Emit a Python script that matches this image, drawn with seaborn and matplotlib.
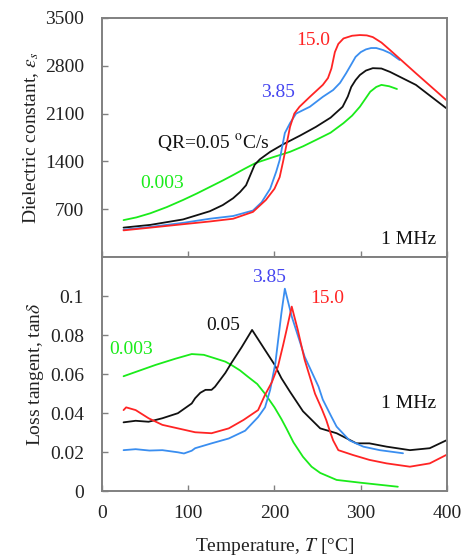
import numpy as np
import pandas as pd
import matplotlib
matplotlib.use("Agg")
import matplotlib.pyplot as plt
import seaborn as sns

# ---------------- data ----------------
# Top panel: dielectric constant vs temperature
T_eps_green = [25, 40, 56, 75, 94, 110, 125, 140, 152, 165, 178, 198, 218, 233, 248, 265, 280, 290, 299, 305, 311, 318, 324, 333, 342]
eps_green = [540, 580, 640, 730, 835, 930, 1025, 1120, 1200, 1290, 1376, 1460, 1540, 1620, 1713, 1820, 1960, 2070, 2200, 2310, 2420, 2490, 2520, 2500, 2460]

T_eps_black = [25, 56, 94, 125, 140, 152, 160, 167, 172, 177, 183, 195, 210, 230, 248, 265, 279, 285, 289, 294, 299, 306, 314, 324, 334, 364, 399]
eps_black = [430, 470, 550, 670, 760, 860, 950, 1050, 1200, 1350, 1430, 1540, 1650, 1780, 1905, 2040, 2200, 2350, 2490, 2590, 2665, 2730, 2765, 2760, 2710, 2520, 2180]

T_eps_blue = [25, 56, 94, 125, 152, 175, 185, 195, 202, 206, 209, 212, 218, 225, 241, 256, 268, 276, 283, 289, 294, 300, 306, 312, 318, 326, 334, 345]
eps_blue = [400, 440, 500, 560, 600, 680, 800, 1000, 1250, 1420, 1620, 1815, 1960, 2100, 2200, 2345, 2445, 2550, 2690, 2820, 2930, 3000, 3040, 3060, 3060, 3030, 2985, 2885]

T_eps_red = [25, 56, 94, 125, 152, 175, 190, 200, 206, 210, 214, 218, 223, 229, 241, 256, 262, 266, 270, 274, 280, 290, 299, 307, 314, 324, 334, 364, 399]
eps_red = [390, 430, 480, 520, 560, 660, 835, 1000, 1170, 1400, 1650, 1905, 2100, 2200, 2345, 2520, 2620, 2760, 3000, 3120, 3200, 3240, 3250, 3245, 3220, 3140, 3030, 2690, 2300]

# Bottom panel: loss tangent vs temperature
T_tan_green = [25, 62, 85, 104, 118, 131, 143, 150, 160, 169, 180, 189, 200, 208, 214, 222, 233, 243, 253, 272, 299, 343]
tan_green = [0.059, 0.0648, 0.068, 0.0704, 0.070, 0.0682, 0.0665, 0.0648, 0.062, 0.0588, 0.055, 0.050, 0.043, 0.037, 0.032, 0.025, 0.0176, 0.0125, 0.0093, 0.0057, 0.0043, 0.0022]

T_tan_black = [25, 39, 54, 70, 88, 104, 108, 114, 120, 127, 131, 143, 150, 162, 174, 181, 189, 200, 208, 218, 233, 253, 272, 295, 310, 330, 357, 380, 399]
tan_black = [0.0353, 0.0361, 0.0356, 0.0374, 0.040, 0.045, 0.0477, 0.0505, 0.052, 0.052, 0.0536, 0.0607, 0.0658, 0.074, 0.0828, 0.078, 0.0725, 0.065, 0.058, 0.051, 0.041, 0.0322, 0.0297, 0.0245, 0.0245, 0.0228, 0.021, 0.022, 0.026]

T_tan_blue = [25, 39, 55, 70, 88, 95, 104, 108, 127, 147, 166, 181, 189, 195, 201, 208, 212, 220, 235, 251, 256, 266, 272, 287, 303, 322, 349]
tan_blue = [0.021, 0.0215, 0.0208, 0.021, 0.0199, 0.0193, 0.0207, 0.022, 0.0245, 0.027, 0.031, 0.038, 0.043, 0.052, 0.0657, 0.0914, 0.104, 0.0897, 0.069, 0.0537, 0.047, 0.0382, 0.0331, 0.026, 0.0228, 0.021, 0.0194]

T_tan_red = [25, 28, 39, 54, 70, 88, 108, 127, 147, 164, 181, 189, 197, 204, 210, 214, 220, 227, 235, 247, 255, 260, 264, 268, 274, 291, 310, 330, 357, 380, 399]
tan_red = [0.0416, 0.043, 0.0416, 0.0374, 0.034, 0.0322, 0.0302, 0.0297, 0.0322, 0.0365, 0.0416, 0.0494, 0.056, 0.064, 0.075, 0.0828, 0.0948, 0.0828, 0.0674, 0.050, 0.042, 0.0365, 0.031, 0.026, 0.021, 0.0185, 0.016, 0.0142, 0.0125, 0.0142, 0.0185]

x_ticks = [0, 100, 200, 300, 400]
eps_ticks = [700, 1400, 2100, 2800, 3500]
tan_ticks = [0, 0.02, 0.04, 0.06, 0.08, 0.1]
tan_ticklabels = ["0", "0.02", "0.04", "0.06", "0.08", "0.1"]

# ---------------- style ----------------
sns.set_theme(style="ticks")
plt.rcParams["font.family"] = ["Liberation Serif", "DejaVu Serif"]
plt.rcParams["mathtext.fontset"] = "stix"

GREEN = "#1aeb1a"
BLACK = "#111111"
BLUE = "#3a8ef0"
BLUE_TXT = "#4646f0"
RED = "#ff2424"
SPINE = "#808080"
TXT = "#222222"
LW = 1.3

fig = plt.figure(figsize=(4.66, 5.6), dpi=100)
ax1 = fig.add_axes([0.2189, 0.5411, 0.7403, 0.4268])
ax2 = fig.add_axes([0.2189, 0.1232, 0.7403, 0.4179])

def draw(ax, T, v, color):
    sns.lineplot(x=T, y=v, ax=ax, color=color, lw=LW, sort=False, estimator=None)

draw(ax1, T_eps_green, eps_green, GREEN)
draw(ax1, T_eps_black, eps_black, BLACK)
draw(ax1, T_eps_blue, eps_blue, BLUE)
draw(ax1, T_eps_red, eps_red, RED)

draw(ax2, T_tan_green, tan_green, GREEN)
draw(ax2, T_tan_black, tan_black, BLACK)
draw(ax2, T_tan_blue, tan_blue, BLUE)
draw(ax2, T_tan_red, tan_red, RED)

for ax in (ax1, ax2):
    ax.set_xlim(0, 400)
    ax.set_xticks(x_ticks)
    for s in ax.spines.values():
        s.set_visible(True)
        s.set_color(SPINE)
        s.set_linewidth(1.4)
    ax.tick_params(direction="in", length=4, width=1.0, color=SPINE,
                   labelsize=14, labelcolor=TXT)
    ax.tick_params(axis="y", pad=13)
    ax.tick_params(axis="x", pad=10)

ax1.set_ylim(0, 3500)
ax1.set_yticks(eps_ticks)
ax1.set_xticklabels([])
ax1.set_ylabel(r"Dielectric constant, $\varepsilon_s$", fontsize=14, color=TXT, labelpad=3)

ax2.set_ylim(0, 0.1203)
ax2.set_yticks(tan_ticks)
ax2.set_yticklabels(tan_ticklabels)
ax2.set_ylabel(r"Loss tangent, tan$\delta$", fontsize=14, color=TXT, labelpad=3)
ax2.set_xlabel(r"Temperature, $T$ [°C]", fontsize=14, color=TXT, labelpad=10)

# annotations top
fs = 14
ax1.text(245, 3177, "15.0", color=RED, fontsize=fs, ha="center", va="center")
ax1.text(204, 2416, "3.85", color=BLUE_TXT, fontsize=fs, ha="center", va="center")
ax1.text(64, 1670, r"QR=0.05 $^{\mathrm{o}}$C/s", color=BLACK, fontsize=fs, ha="left", va="center")
ax1.text(70, 1083, "0.003", color=GREEN, fontsize=fs, ha="center", va="center")
ax1.text(387, 250, "1 MHz", color=BLACK, fontsize=fs, ha="right", va="center")

# annotations bottom
ax2.text(193.5, 0.1095, "3.85", color=BLUE_TXT, fontsize=fs, ha="center", va="center")
ax2.text(261, 0.0992, "15.0", color=RED, fontsize=fs, ha="center", va="center")
ax2.text(140, 0.0853, "0.05", color=BLACK, fontsize=fs, ha="center", va="center")
ax2.text(34, 0.0725, "0.003", color=GREEN, fontsize=fs, ha="center", va="center")
ax2.text(387, 0.0452, "1 MHz", color=BLACK, fontsize=fs, ha="right", va="center")

fig.savefig("out.png", dpi=100)
